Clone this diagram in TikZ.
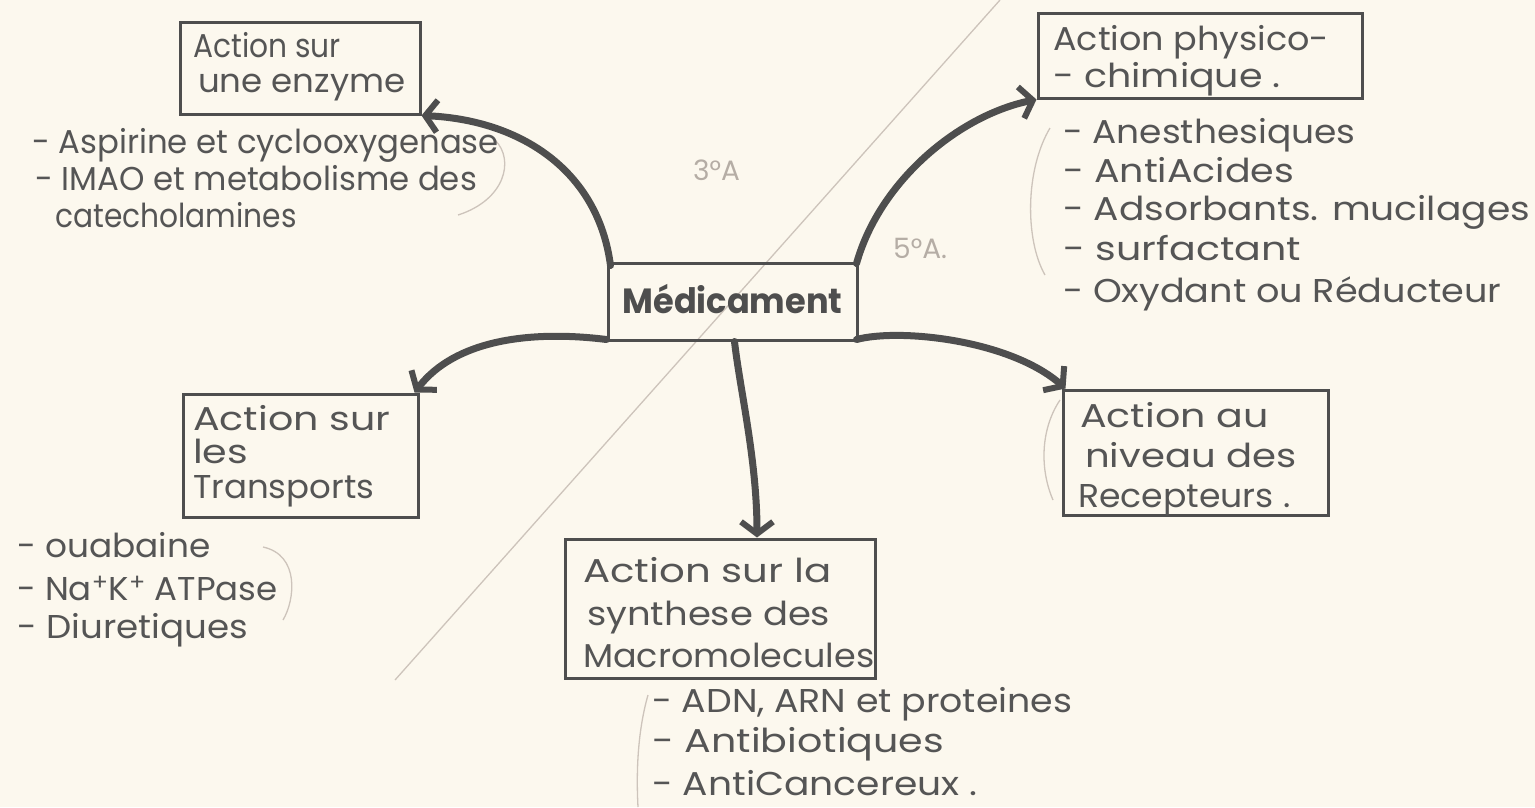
\documentclass[tikz,border=0pt]{standalone}
\usepackage{graphicx}
\usepackage{fontspec}
\setmainfont{Poppins}
\usetikzlibrary{arrows.meta}
\definecolor{paper}{HTML}{FCF8EE}
\definecolor{ink}{HTML}{4E4E4E}
\definecolor{txtink}{HTML}{555555}
\definecolor{pencil}{HTML}{CDC4BB}
\definecolor{pencildark}{HTML}{B5ADA5}
\newcommand{\hs}[2]{\scalebox{#1}[1]{#2}}
\tikzset{
  box/.style={draw=ink, line width=3pt, rectangle, inner sep=0pt},
  txt/.style={text=txtink, font=\fontsize{33}{38}\selectfont, inner sep=0pt, anchor=base west},
  medtxt/.style={text=ink, font=\fontsize{35}{38}\selectfont\bfseries, inner sep=0pt},
  link/.style={draw=ink, line width=7pt, line cap=round,
    -{Straight Barb[length=12pt, width=32pt, line width=6pt]}},
  pencilline/.style={draw=pencil, line width=1.3pt},
  penciltxt/.style={text=pencildark, font=\fontsize{28}{30}\selectfont, inner sep=0pt, anchor=base west},
}
\begin{document}
\begin{tikzpicture}[x=1pt, y=-1pt]
\fill[paper] (0,0) rectangle (1535,807);
\useasboundingbox (0,0) rectangle (1535,807);

% pencil marks
\draw[pencilline] (1000,0) -- (395,680);
\draw[pencilline] (495,140) .. controls (515,160) and (505,200) .. (458,215);
\draw[pencilline] (1050,128) .. controls (1025,170) and (1025,240) .. (1045,275);
\draw[pencilline] (263,547) .. controls (300,555) and (295,600) .. (283,620);
\draw[pencilline] (648,695) .. controls (638,730) and (636,770) .. (638,807);
\draw[pencilline] (1060,400) .. controls (1040,430) and (1040,470) .. (1053,500);
\node[penciltxt] (p3) at (693,180) {3°A};
\node[penciltxt] (p5) at (893,258) {5°A.};

% boxes
\node[box, minimum width=240pt, minimum height=92pt] (enz) at (300,68) {};
\node[box, minimum width=324pt, minimum height=85pt] (phys) at (1200,55.5) {};
\node[box, minimum width=249pt, minimum height=77pt] (med) at (732.5,301.5) {};
\node[box, minimum width=235pt, minimum height=123pt] (trans) at (300.5,455.5) {};
\node[box, minimum width=265pt, minimum height=125pt] (rec) at (1195.5,452.5) {};
\node[box, minimum width=310pt, minimum height=139pt] (syn) at (720,608.5) {};

% box texts
\node[medtxt] (medt) at ([yshift=2pt]med.center) {\hs{0.96}{Médicament}};

\node[txt] (enz1) at (193,57) {\hs{0.9}{Action sur}};
\node[txt] (enz2) at (198,92) {\hs{1.03}{une enzyme}};

\node[txt] (phys1) at (1053,50) {\hs{1.06}{Action physico-}};
\node[txt] (phys2) at (1053,87) {\hs{1.15}{- chimique .}};

\node[txt] (trans1) at (193,430) {\hs{1.2}{Action sur}};
\node[txt] (trans2) at (193,463) {\hs{1.2}{les}};
\node[txt] (trans3) at (193,498) {\hs{1.03}{Transports}};

\node[txt] (rec1) at (1080,427) {\hs{1.2}{Action au}};
\node[txt] (rec2) at (1085,467) {\hs{1.17}{niveau des}};
\node[txt] (rec3) at (1078,507) {\hs{1.05}{Recepteurs .}};

\node[txt] (syn1) at (583,582) {\hs{1.22}{Action sur la}};
\node[txt] (syn2) at (587,625) {\hs{1.12}{synthese des}};
\node[txt] (syn3) at (583,667) {\hs{1.06}{Macromolecules}};

% lists
\node[txt] (l11) at (32,153) {\hs{0.98}{- Aspirine et cyclooxygenase}};
\node[txt] (l12) at (35,190) {\hs{0.98}{- IMAO et metabolisme des}};
\node[txt] (l13) at (55,227) {\hs{0.9}{catecholamines}};

\node[txt] (l21) at (1063,143) {\hs{1.09}{- Anesthesiques}};
\node[txt] (l22) at (1063,182) {\hs{1.15}{- AntiAcides}};
\node[txt] (l23) at (1063,220) {\hs{1.14}{- Adsorbants. mucilages}};
\node[txt] (l24) at (1063,260) {\hs{1.2}{- surfactant}};
\node[txt] (l25) at (1063,302) {\hs{1.11}{- Oxydant ou Réducteur}};

\node[txt] (l31) at (17,557) {\hs{1.04}{- ouabaine}};
\node[txt] (l32) at (17,600) {\hs{1.03}{- Na\textsuperscript{+}K\textsuperscript{+} ATPase}};
\node[txt] (l33) at (17,638) {\hs{1.08}{- Diuretiques}};

\node[txt] (l41) at (652,712) {\hs{1.1}{- ADN, ARN et proteines}};
\node[txt] (l42) at (652,752) {\hs{1.2}{- Antibiotiques}};
\node[txt] (l43) at (652,795) {\hs{1.14}{- AntiCancereux .}};

% connectors
\draw[link] ([shift={(4,4)}]med.north west) .. controls (598,170) and (520,120) .. (enz.south east);
\draw[link] ([shift={(-2,2)}]med.north east) .. controls (880,180) and (960,115) .. (phys.south west);
\draw[link] ([shift={(0,-2)}]med.south west) .. controls (530,330) and (455,340) .. ([shift={(-5,0)}]trans.north east);
\draw[link] ([shift={(2,0)}]med.south) .. controls (740,390) and (757,460) .. ([shift={(37,0)}]syn.north);
\draw[link] ([shift={(-2,-2)}]med.south east) .. controls (900,328) and (1010,340) .. ([shift={(4,0)}]rec.north west);
\end{tikzpicture}
\end{document}
